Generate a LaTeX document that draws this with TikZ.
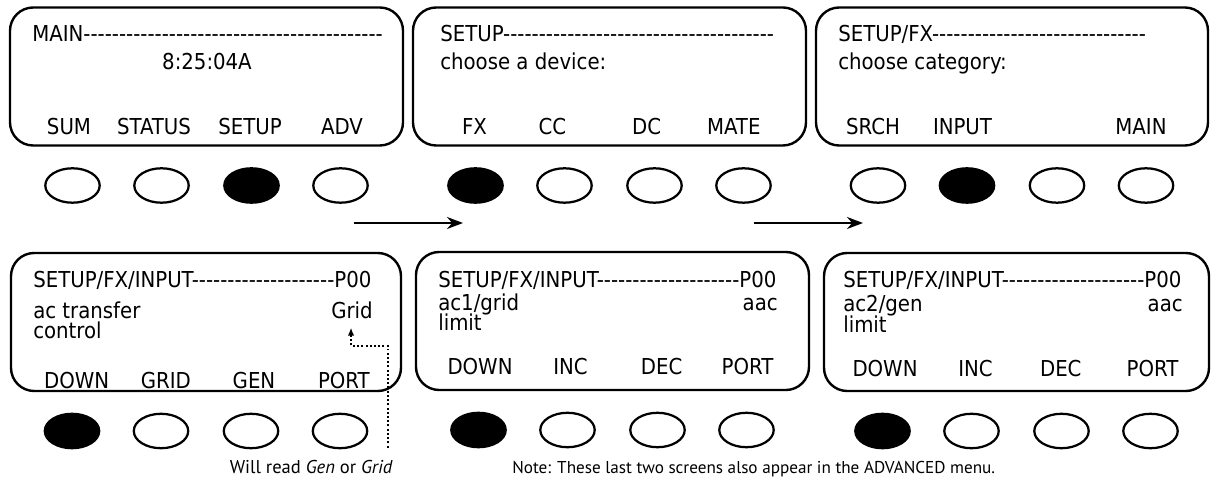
\documentclass[tikz,border=0pt]{standalone}
\usepackage{fontspec}
\newfontfamily\lcdfont{DejaVu Sans Condensed}
\newfontfamily\notefont{PT Sans}
\usetikzlibrary{arrows.meta,shapes}

\tikzset{
screen/.style={draw,line width=1.7pt,rounded corners=0.58cm,minimum height=3.45cm},
key/.style={draw,ellipse,line width=1.6pt,inner sep=0pt,minimum width=1.36cm,minimum height=0.86cm},
lcd/.style={font=\lcdfont\fontsize{15.6}{18}\selectfont,inner sep=0pt},
note/.style={font=\notefont\fontsize{12.2}{14}\selectfont,inner sep=0pt},
go/.style={line width=1.5pt,-{Stealth[length=0.4cm,width=0.3cm]}},
readline/.style={line width=1.4pt,dash pattern=on 1.4pt off 1.6pt,-{Latex[length=0.2cm,width=0.16cm]}}
}

\begin{document}
\begin{tikzpicture}[x=0.025cm,y=-0.025cm]
\useasboundingbox (0,0) rectangle (1212,478);
% screens and their four soft keys
\foreach \s/\cx/\cy/\w/\f in {a/206.5/76.5/393/3,b/609.5/76.5/393/1,c/1012/76.5/392/2,
  d/206/322/390/1,e/612.5/321/393/1,f/1016.5/322/385/1}{
  \node[screen,minimum width=\w*0.025cm] (\s) at (\cx,\cy) {};
  \foreach \k/\dx in {1/-134,2/-45,3/45,4/134}{
    \ifnum\k=\f \def\kfill{black}\else\def\kfill{white}\fi
    \node[key,fill=\kfill] (\s\k) at (\cx+\dx,\cy+109) {};
  }
}
% MAIN
\node[lcd,anchor=base west] (a-top) at (32,42) {MAIN------------------------------------------};
\node[lcd,anchor=base] (a-time) at (207,70) {8:25:04A};
\foreach \x/\t [count=\i] in {69/SUM,154/STATUS,250/SETUP,342/ADV}
  \node[lcd,anchor=base] (a-l\i) at (\x,135) {\t};
% SETUP
\node[lcd,anchor=base west] (b-top) at (440,42) {SETUP--------------------------------------};
\node[lcd,anchor=base west] (b-txt) at (440,70) {choose a device:};
\foreach \x/\t [count=\i] in {474.5/FX,552.5/CC,646.7/DC,733.8/MATE}
  \node[lcd,anchor=base] (b-l\i) at (\x,135) {\t};
% SETUP/FX
\node[lcd,anchor=base west] (c-top) at (838,42) {SETUP/FX------------------------------};
\node[lcd,anchor=base west] (c-txt) at (838,70) {choose category:};
\foreach \x/\t [count=\i] in {873/SRCH,962.5/INPUT,1141/MAIN}
  \node[lcd,anchor=base] (c-l\i) at (\x,135) {\t};
% SETUP/FX/INPUT, ac transfer
\node[lcd,anchor=base west] (d-top) at (33,288) {SETUP/FX/INPUT--------------------P00};
\node[lcd,anchor=base west] (d-txt) at (33,319) {ac transfer};
\node[lcd,anchor=base east] (grid) at (373,319) {Grid};
\node[lcd,anchor=base west] (d-txt2) at (33,339) {control};
\foreach \x/\t [count=\i] in {76.7/DOWN,165.8/GRID,254/GEN,343.8/PORT}
  \node[lcd,anchor=base] (d-l\i) at (\x,389) {\t};
% ac1/grid limit
\node[lcd,anchor=base west] (e-top) at (438,288) {SETUP/FX/INPUT--------------------P00};
\node[lcd,anchor=base west] (e-txt) at (438,311) {ac1/grid};
\node[lcd,anchor=base east] (e-val) at (778,311) {aac};
\node[lcd,anchor=base west] (e-txt2) at (438,331) {limit};
\foreach \x/\t [count=\i] in {480/DOWN,570.5/INC,661.7/DEC,747.5/PORT}
  \node[lcd,anchor=base] (e-l\i) at (\x,375) {\t};
% ac2/gen limit
\node[lcd,anchor=base west] (f-top) at (843,288) {SETUP/FX/INPUT--------------------P00};
\node[lcd,anchor=base west] (f-txt) at (843,312) {ac2/gen};
\node[lcd,anchor=base east] (f-val) at (1183,312) {aac};
\node[lcd,anchor=base west] (f-txt2) at (843,333) {limit};
\foreach \x/\t [count=\i] in {885/DOWN,975.5/INC,1060.8/DEC,1152.5/PORT}
  \node[lcd,anchor=base] (f-l\i) at (\x,377) {\t};
% arrows between steps
\coordinate (go1a) at (354,223); \coordinate (go1b) at (463,223);
\coordinate (go2a) at (754,223); \coordinate (go2b) at (863,223);
\draw[go] (go1a) -- (go1b);
\draw[go] (go2a) -- (go2b);
% notes
\node[note,font=\notefont\fontsize{13.2}{15}\selectfont,anchor=base east] (readnote) at (393,473) {Will read \textit{Gen} or \textit{Grid}};
\node[note,anchor=base west] (advnote) at (512,473) {Note: These last two screens also appear in the ADVANCED menu.};
\draw[readline] ([shift={(-5,-12)}]readnote.north east) |- ([shift={(-1,26)}]grid.south) -- ([shift={(-1,8)}]grid.south);
\end{tikzpicture}
\end{document}
